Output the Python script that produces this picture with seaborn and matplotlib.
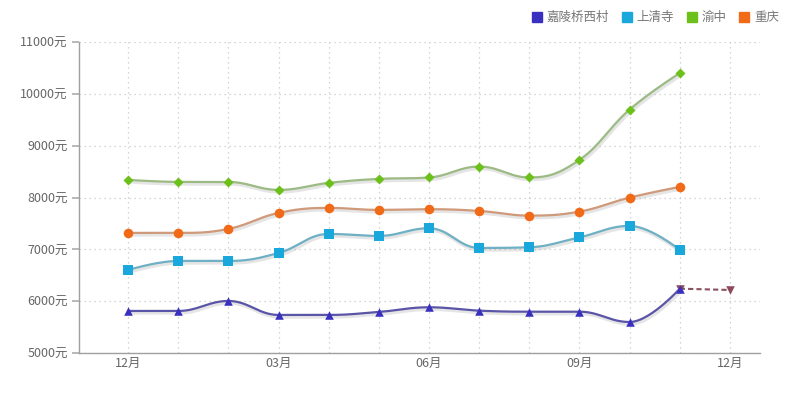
import numpy as np
import pandas as pd
import matplotlib
matplotlib.use("Agg")
import matplotlib.pyplot as plt
import matplotlib.patheffects as pe
from matplotlib.lines import Line2D
import seaborn as sns

months = ["12月", "01月", "02月", "03月", "04月", "05月", "06月", "07月", "08月", "09月", "10月", "11月", "12月"]
jialing = [5811, 5811, 6004, 5734, 5734, 5792, 5882, 5817, 5797, 5797, 5598, 6241]
shangqing = [6602, 6776, 6776, 6930, 7297, 7259, 7407, 7027, 7040, 7233, 7452, 6988]
yuzhong = [8340, 8301, 8300, 8147, 8282, 8359, 8386, 8597, 8386, 8726, 9697, 10400]
chongqing = [7317, 7317, 7394, 7703, 7799, 7761, 7774, 7741, 7651, 7728, 7998, 8205]
forecast = [6241, 6216]
series_names = ["嘉陵桥西村", "上清寺", "渝中", "重庆"]
yticks = [5000, 6000, 7000, 8000, 9000, 10000, 11000]
xtick_pos = [0, 3, 6, 9, 12]

sns.set_theme(style="white")
plt.rcParams['font.family'] = ['Noto Sans CJK SC', 'DejaVu Sans']


def spline(xs, ys, n=30, smoothing=1.5):
    xs = np.asarray(xs, float)
    ys = np.asarray(ys, float)
    m = len(xs)
    lc = [None] * m
    rc = [None] * m
    for i in range(m):
        if i == 0 or i == m - 1:
            lc[i] = (xs[i], ys[i])
            rc[i] = (xs[i], ys[i])
            continue
        lx = (smoothing * xs[i] + xs[i - 1]) / (smoothing + 1)
        ly = (smoothing * ys[i] + ys[i - 1]) / (smoothing + 1)
        rx = (smoothing * xs[i] + xs[i + 1]) / (smoothing + 1)
        ry = (smoothing * ys[i] + ys[i + 1]) / (smoothing + 1)
        corr = ((ry - ly) * (rx - xs[i])) / (rx - lx) + ys[i] - ry
        ly += corr
        ry += corr
        if ly > max(ys[i - 1], ys[i]):
            ly = max(ys[i - 1], ys[i]); ry = 2 * ys[i] - ly
        elif ly < min(ys[i - 1], ys[i]):
            ly = min(ys[i - 1], ys[i]); ry = 2 * ys[i] - ly
        if ry > max(ys[i + 1], ys[i]):
            ry = max(ys[i + 1], ys[i]); ly = 2 * ys[i] - ry
        elif ry < min(ys[i + 1], ys[i]):
            ry = min(ys[i + 1], ys[i]); ly = 2 * ys[i] - ry
        lc[i] = (lx, ly)
        rc[i] = (rx, ry)
    outx, outy = [xs[0]], [ys[0]]
    t = np.linspace(0, 1, n)[1:]
    for i in range(1, m):
        p0 = np.array([xs[i - 1], ys[i - 1]])
        p1 = np.array(rc[i - 1])
        p2 = np.array(lc[i])
        p3 = np.array([xs[i], ys[i]])
        b = ((1 - t) ** 3)[:, None] * p0 + (3 * (1 - t) ** 2 * t)[:, None] * p1 + \
            (3 * (1 - t) * t ** 2)[:, None] * p2 + (t ** 3)[:, None] * p3
        outx.extend(b[:, 0]); outy.extend(b[:, 1])
    return np.array(outx), np.array(outy)


fig = plt.figure(figsize=(8, 3.93), dpi=100)
ax = fig.add_axes([79 / 800, 40 / 393, (760 - 79) / 800, (353 - 42) / 393])

data_list = [jialing, shangqing, yuzhong, chongqing]
line_colors = ["#5b55a8", "#6fb0c4", "#9cbb84", "#cf9a7a"]
marker_colors = ["#3a30c0", "#1aa8dc", "#6cc01a", "#f06a18"]
markers = ["^", "s", "D", "o"]
msizes = [38, 42, 26, 48]

shadow = [pe.SimpleLineShadow(offset=(0.8, -1.2), shadow_color="#999999", alpha=0.25, linewidth=3),
          pe.Normal()]

x = np.arange(len(jialing))
for vals, lc, mc, mk, ms in zip(data_list, line_colors, marker_colors, markers, msizes):
    sx, sy = spline(x, vals)
    sns.lineplot(x=sx, y=sy, ax=ax, color=lc, linewidth=1.6, sort=False,
                 path_effects=shadow, zorder=3)

# forecast dashed segment
fx = [11, 12]
sns.lineplot(x=fx, y=forecast, ax=ax, color="#8a5060", linewidth=1.5,
             linestyle=(0, (2.5, 1.5)), zorder=3)
ax.scatter([11, 12], forecast, marker="v", s=38, color="#8a4a5c", zorder=4, linewidths=0)

for vals, mc, mk, ms in zip(data_list, marker_colors, markers, msizes):
    df = pd.DataFrame({"x": x, "y": vals})
    sns.scatterplot(data=df, x="x", y="y", ax=ax, marker=mk, s=ms, color=mc,
                    linewidth=0, zorder=5)

ax.set_xlim(-0.98, 12.6)
ax.set_ylim(5000, 11000)
ax.set_yticks(yticks)
ax.set_yticklabels([f"{v}元" for v in yticks])
ax.set_xticks(list(range(13)), minor=True)
ax.set_xticks(xtick_pos)
ax.set_xticklabels([months[i] for i in xtick_pos])
ax.grid(True, which="major", axis="y", linestyle=(0, (1, 3)), color="#c8c8c8", linewidth=0.9)
ax.grid(True, which="both", axis="x", linestyle=(0, (1, 3)), color="#c8c8c8", linewidth=0.9)
ax.set_xlabel("")
ax.set_ylabel("")
for s in ["top", "right"]:
    ax.spines[s].set_visible(False)
for s in ["left", "bottom"]:
    ax.spines[s].set_color("#a0a0a0")
    ax.spines[s].set_linewidth(1.0)
ax.tick_params(axis="y", which="major", length=5, color="#b0b0b0", labelsize=9, labelcolor="#666666", pad=3, left=True)
ax.tick_params(axis="x", which="both", length=0, labelsize=9, labelcolor="#666666", pad=3)

handles = [Line2D([], [], marker="s", linestyle="", markersize=7, color=c) for c in marker_colors]
fig.legend(handles, series_names, loc="upper right", bbox_to_anchor=(0.988, 1.0), ncol=4,
           frameon=False, fontsize=9, labelcolor="#777777", handletextpad=0.3,
           columnspacing=0.9, handlelength=1.0)

fig.savefig("out.png", dpi=100)
